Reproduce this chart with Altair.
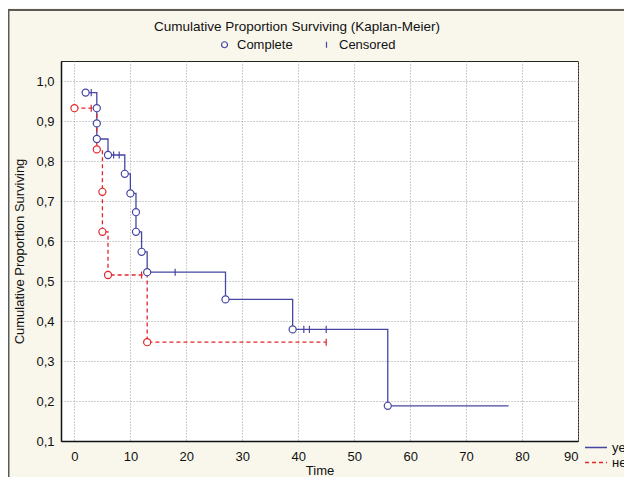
import altair as alt
import pandas as pd

FONT = "Liberation Sans"
BLUE = "#4646a2"
RED = "#e2262a"

groups = ["yes", "нет"]
kinds = ["Complete", "Censored"]

# group "yes" (solid blue)
yes_event_time = [2, 4, 4, 4, 6, 9, 10, 11, 11, 12, 13, 27, 39, 56]
yes_event_surv = [0.971, 0.932, 0.894, 0.855, 0.815, 0.768, 0.719, 0.672, 0.623, 0.573, 0.522, 0.454, 0.379, 0.188]
yes_cens_time = [3, 7, 8, 18, 41, 42, 45]
yes_cens_surv = [0.971, 0.815, 0.815, 0.522, 0.379, 0.379, 0.379]
yes_end_time = 77.6

# group "нет" (dashed red)
no_event_time = [0, 4, 5, 5, 6, 13]
no_event_surv = [0.932, 0.829, 0.723, 0.623, 0.515, 0.347]
no_cens_time = [3, 12, 45]
no_cens_surv = [0.932, 0.515, 0.347]
no_end_time = 45

x_ticks = [0, 10, 20, 30, 40, 50, 60, 70, 80, 90]
y_ticks = [0.1, 0.2, 0.3, 0.4, 0.5, 0.6, 0.7, 0.8, 0.9, 1.0]

title_text = "Cumulative Proportion Surviving (Kaplan-Meier)"
x_title = "Time"
y_title = "Cumulative Proportion Surviving"

# ---- build tables
series = [
    (groups[0], yes_event_time, yes_event_surv, yes_cens_time, yes_cens_surv, yes_end_time),
    (groups[1], no_event_time, no_event_surv, no_cens_time, no_cens_surv, no_end_time),
]
line_rows, point_rows = [], []
for g, et, es, ct, cs, end in series:
    i = 0
    for t, s in zip(et, es):
        line_rows.append({"group": g, "time": t, "surv": s, "ord": i}); i += 1
        point_rows.append({"group": g, "time": t, "surv": s, "kind": kinds[0]})
    line_rows.append({"group": g, "time": end, "surv": es[-1], "ord": i})
    for t, s in zip(ct, cs):
        point_rows.append({"group": g, "time": t, "surv": s, "kind": kinds[1]})
lines_df = pd.DataFrame(line_rows)
points_df = pd.DataFrame(point_rows)

x_scale = alt.Scale(domain=[-2.4, 90], nice=False, zero=False)
y_scale = alt.Scale(domain=[0.1, 1.05], nice=False, zero=False)

x_enc = alt.X("time:Q", scale=x_scale, axis=alt.Axis(
    values=x_ticks, format="d", title=x_title, grid=True, gridDash=[1, 2],
    gridColor="#9c9c9c", tickSize=0, labelPadding=9, domainColor="#111",
    domainWidth=1.5, titleX=258.5, titleY=29, titleBaseline="middle",
    titleAlign="center"))
y_enc = alt.Y("surv:Q", scale=y_scale, axis=alt.Axis(
    values=y_ticks, title=y_title, grid=True, gridDash=[1, 2],
    gridColor="#9c9c9c", tickSize=0, labelPadding=7, domainColor="#111",
    domainWidth=1.5, labelExpr="replace(format(datum.value, '.1f'), '.', ',')",
    titleX=-42, titleY=190, titleBaseline="middle", titleAlign="center"))

leg_kw = dict(orient="none", legendX=523, legendY=379, title=None,
              symbolType="stroke", symbolSize=484, symbolStrokeWidth=1.3,
              labelFontSize=13, labelFont=FONT, labelOffset=4, rowPadding=0,
              clipHeight=15)
lines = alt.Chart(lines_df).mark_line(interpolate="step-after", strokeWidth=1.3).encode(
    x=x_enc, y=y_enc, order="ord:Q",
    color=alt.Color("group:N", scale=alt.Scale(domain=groups, range=[BLUE, RED]),
                    legend=alt.Legend(**leg_kw)),
    strokeDash=alt.StrokeDash("group:N", scale=alt.Scale(domain=groups, range=[[1, 0], [4, 3]]),
                              legend=alt.Legend(**leg_kw)),
)

shape_scale = alt.Scale(domain=kinds, range=["circle", "M0,-1L0,1"])
shape_legend = alt.Legend(orient="none", legendX=157, legendY=-23, direction="horizontal",
                          title=None, symbolStrokeColor=BLUE,
                          symbolSize=36, symbolStrokeWidth=1.2, labelFontSize=13,
                          labelFont=FONT, labelOffset=6, columnPadding=27)

# white discs under the open circles so the step lines do not show through
discs = alt.Chart(points_df).transform_filter(alt.datum.kind == kinds[0]).mark_point(
    filled=True, color="white", opacity=1, size=50, shape="circle"
).encode(x=x_enc, y=y_enc)


def pts(g, color, legend):
    return alt.Chart(points_df).transform_filter(alt.datum.group == g).mark_point(
        filled=False, color=color, strokeWidth=1.2, opacity=1, size=50
    ).encode(x=x_enc, y=y_enc,
             shape=alt.Shape("kind:N", scale=shape_scale, legend=legend))


one = pd.DataFrame({"k": [0]})
title = alt.Chart(one).mark_text(text=title_text, font=FONT, fontSize=13.5, color="#111",
                                  align="center", baseline="middle").encode(
    x=alt.value(236), y=alt.value(-34))
top_border = alt.Chart(one).mark_rule(color="#5a5a5a", strokeWidth=2).encode(
    x=alt.value(-53), x2=alt.value(580), y=alt.value(-51))
left_border = alt.Chart(one).mark_rule(color="#5a5a5a", strokeWidth=2).encode(
    x=alt.value(-52.5), y=alt.value(-52), y2=alt.value(440))

chart = alt.layer(top_border, left_border, title, lines, discs,
                  pts(groups[0], BLUE, shape_legend), pts(groups[1], RED, None)).properties(
    width=517, height=380,
    autosize=alt.AutoSizeParams(type="none"),
    padding={"left": 53, "top": 53, "right": 46, "bottom": 36},
    background="#F9F7EC",
).configure_view(fill="white", stroke="#222", strokeWidth=1).configure_axis(
    labelFont=FONT, titleFont=FONT, labelFontSize=13, titleFontSize=13,
    labelColor="#111", titleColor="#111", titleFontWeight="normal"
).configure_legend(labelColor="#111")

chart.save("out.html", embed_options={"renderer": "svg", "actions": False})
